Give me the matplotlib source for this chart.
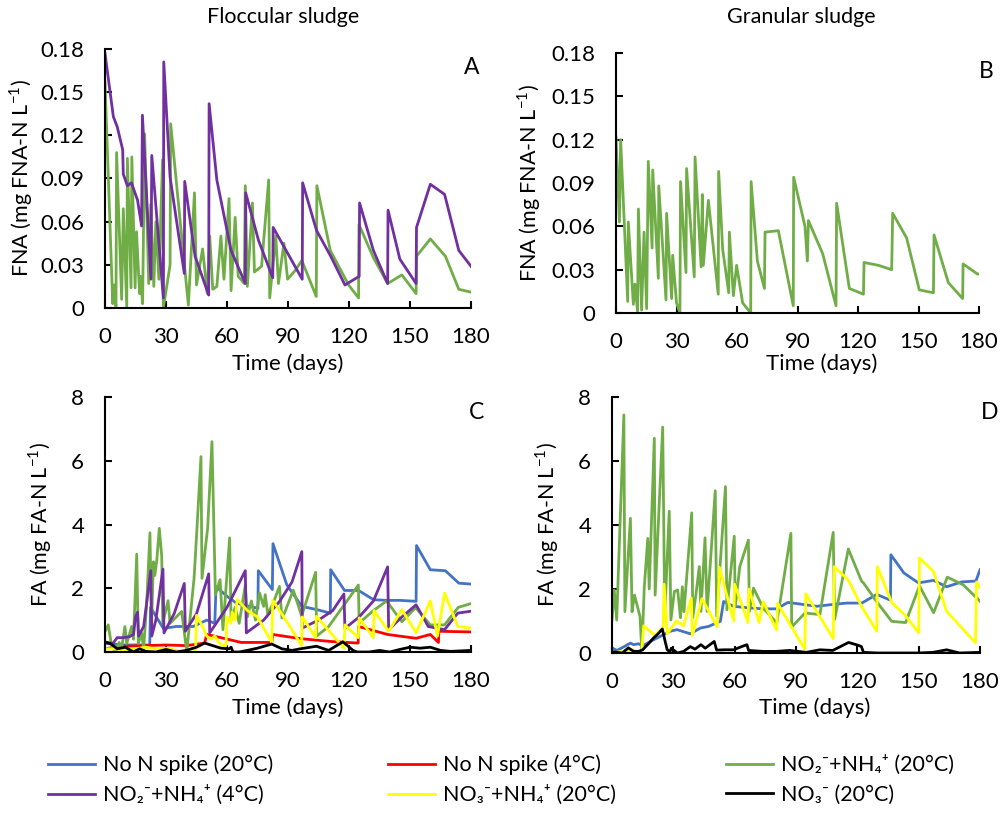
import numpy as np
import matplotlib
matplotlib.use("Agg")
import matplotlib.pyplot as plt

plt.rcParams['font.family'] = ['Lato', 'DejaVu Sans']
plt.rcParams['mathtext.fontset'] = 'custom'
plt.rcParams['mathtext.rm'] = 'Lato'

## ---------------------------------------------------------------- data
# Panel A: floccular sludge, FNA
A_green_t = [0, 3.8, 4.4, 5.4, 5.7, 8.2, 9.0, 10.7, 11.0, 12.8, 13.2, 14.8, 15.5, 17.0, 17.5, 18.5,
             19.5, 21.5, 22.5, 24.0, 25.0, 26.5, 28.3, 28.7, 32.0, 32.3, 41.0, 44.0, 45.0, 48.0,
             50.3, 51.5, 53.0, 55.0, 57.0, 58.5, 61.0, 62.0, 64.0, 65.5, 68.5, 69.0, 70.0, 72.5,
             73.5, 77.0, 80.5, 81.0, 84.0, 85.3, 88.0, 89.8, 93.5, 96.8, 103.9, 104.2, 110.8,
             119.8, 124.7, 124.9, 132.0, 139.0, 146.0, 153.0, 153.2, 160.0, 167.4, 174.0, 180.0]
A_green_v = [0.157, 0.003, 0.016, 0.001, 0.108, 0.006, 0.069, 0.001, 0.104, 0.014, 0.105, 0.014,
             0.053, 0.010, 0.022, 0.003, 0.121, 0.017, 0.072, 0.015, 0.060, 0.020, 0.103, 0.000,
             0.030, 0.128, 0.002, 0.080, 0.016, 0.041, 0.010, 0.050, 0.013, 0.015, 0.050, 0.020,
             0.076, 0.012, 0.063, 0.022, 0.017, 0.085, 0.015, 0.073, 0.025, 0.029, 0.089, 0.007,
             0.050, 0.017, 0.045, 0.020, 0.026, 0.033, 0.008, 0.085, 0.040, 0.016, 0.007, 0.058,
             0.035, 0.017, 0.023, 0.010, 0.036, 0.048, 0.036, 0.013, 0.011]
A_purple_t = [0, 4.1, 6.0, 8.7, 9.0, 11.0, 13.0, 16.0, 18.0, 18.4, 22.6, 23.0, 28.7, 28.9, 32.0,
              39.0, 39.2, 44.3, 51.0, 51.2, 55.0, 62.0, 69.0, 69.2, 75.5, 82.5, 82.7, 97.0, 97.2,
              104.0, 111.0, 118.0, 125.0, 125.2, 132.0, 139.0, 139.2, 145.0, 153.0, 153.2, 160.0,
              167.0, 174.0, 180.0]
A_purple_v = [0.177, 0.133, 0.126, 0.110, 0.093, 0.085, 0.087, 0.075, 0.057, 0.134, 0.020, 0.106,
              0.007, 0.171, 0.091, 0.024, 0.088, 0.036, 0.009, 0.142, 0.089, 0.040, 0.017, 0.080,
              0.047, 0.021, 0.056, 0.020, 0.087, 0.054, 0.036, 0.016, 0.022, 0.073, 0.040, 0.017,
              0.068, 0.034, 0.017, 0.056, 0.086, 0.079, 0.040, 0.029]

# Panel B: granular sludge, FNA
B_green_t = [0, 1.7, 2.3, 5.8, 6.1, 8.6, 9.4, 10.7, 11.1, 12.7, 13.9, 15.2, 16.0, 17.9, 18.2, 21.0,
             21.2, 24.8, 25.1, 27.6, 28.1, 30.0, 31.7, 32.0, 34.7, 35.0, 38.8, 39.2, 42.2, 42.8,
             43.3, 45.8, 50.7, 50.9, 52.9, 55.9, 56.2, 58.2, 59.8, 62.8, 66.8, 67.0, 70.1, 73.6,
             73.9, 80.5, 87.9, 88.1, 93.7, 94.9, 95.4, 102.5, 109.1, 109.4, 115.7, 122.7, 123.0,
             130.1, 136.7, 137.2, 144.1, 150.4, 157.4, 157.7, 164.8, 171.9, 172.1, 179.2, 180.0]
B_green_v = [0.122, 0.063, 0.120, 0.008, 0.063, 0.006, 0.020, 0.001, 0.072, 0.002, 0.056, 0.003,
             0.105, 0.045, 0.099, 0.024, 0.088, 0.009, 0.069, 0.010, 0.040, 0.007, 0.000, 0.091,
             0.028, 0.100, 0.025, 0.108, 0.032, 0.082, 0.033, 0.078, 0.013, 0.098, 0.044, 0.014,
             0.056, 0.012, 0.033, 0.007, 0.000, 0.091, 0.036, 0.017, 0.056, 0.057, 0.005, 0.094,
             0.060, 0.036, 0.064, 0.041, 0.005, 0.076, 0.017, 0.013, 0.035, 0.033, 0.030, 0.069,
             0.052, 0.016, 0.014, 0.054, 0.021, 0.010, 0.034, 0.027, 0.027]

# Panel C: floccular sludge, FA
C_blue_t = [0, 4, 10, 16, 22, 22.4, 28.7, 35, 43.4, 50, 54, 54.6, 60, 64.7, 75.2, 75.4, 82.3, 82.6,
            89.4, 96.8, 104.2, 110.8, 111, 117.8, 124.7, 132.1, 139, 145.2, 153, 153.2, 160, 167.4,
            174, 180]
C_blue_v = [0.27, 0.25, 0.22, 0.22, 0.22, 1.4, 0.74, 0.8, 0.8, 1.0, 0.9, 2.05, 1.75, 1.53, 1.37,
            2.55, 1.96, 3.4, 2.11, 1.43, 1.33, 1.22, 2.58, 1.93, 1.93, 1.64, 1.62, 1.62, 1.59, 3.34,
            2.58, 2.55, 2.16, 2.13]
C_red_t = [0, 8, 20, 30, 40, 49, 50, 57, 67, 82, 82.5, 96, 111, 124.5, 124.7, 139, 153, 160, 164,
           164.2, 180]
C_red_v = [0.1, 0.18, 0.2, 0.22, 0.2, 0.28, 0.55, 0.45, 0.3, 0.3, 0.55, 0.42, 0.33, 0.28, 0.8,
           0.55, 0.43, 0.55, 0.3, 0.65, 0.63]
C_green_t = [0, 1.6, 3.3, 4.9, 7, 8, 9.8, 10.7, 13.1, 14, 15.6, 16.4, 18, 19, 20.5, 22.1, 22.9, 23.8,
             24.5, 25.5, 26.7, 27.9, 28.4, 31, 32, 37.7, 40.2, 43.8, 45, 47.2, 47.7, 50.5, 52.6,
             54.3, 56.6, 58, 61.3, 62, 64, 66, 69, 70, 72, 74, 76, 78, 78.8, 80, 82.5, 85.8, 87,
             88.5, 92.6, 96.7, 103.6, 104.1, 110, 124.6, 125, 132, 138.5, 146, 152.8, 160, 167,
             173.7, 180]
C_green_v = [0.64, 0.85, 0.17, 0.01, 0.3, 0.05, 0.8, 0.27, 0.8, 0.4, 3.07, 0.27, 0.6, 0.1, 1.53,
             3.74, 0.9, 2.83, 2.4, 2.9, 3.88, 3.0, 0.9, 1.61, 0.9, 1.27, 0.01, 2.31, 3.62, 6.13,
             2.31, 3.9, 6.6, 1.8, 2.27, 0.7, 3.58, 1.0, 1.4, 0.9, 2.1, 1.1, 1.6, 1.0, 1.85, 1.43,
             1.8, 1.2, 1.5, 2.06, 1.07, 1.26, 1.94, 1.13, 2.5, 0.5, 0.8, 2.1, 0.91, 1.3, 1.6, 0.95,
             1.39, 0.85, 0.85, 1.4, 1.52]
C_purple_t = [0, 4, 6, 9, 12, 14, 15, 16, 16.5, 19, 22.5, 23, 25, 28.5, 29, 34, 39, 39.5, 45, 51,
              51.5, 60, 69, 69.5, 78, 86, 92, 96.8, 97, 105, 112, 117.5, 118, 125, 132, 139, 139.5,
              146, 153, 159, 167, 173.5, 180]
C_purple_v = [0.3, 0.28, 0.45, 0.45, 0.48, 0.55, 1.1, 1.25, 0.5, 0.8, 2.55, 0.5, 1.0, 2.6, 0.6,
              1.2, 2.15, 0.65, 1.2, 2.45, 0.6, 1.4, 2.55, 0.6, 1.0, 1.6, 2.2, 3.15, 0.75, 1.0, 1.3,
              1.82, 0.74, 1.1, 1.6, 2.67, 0.7, 1.1, 1.48, 0.8, 0.7, 1.22, 1.28]
C_yellow_t = [0, 5, 10, 15, 20, 25, 30, 35, 40, 44.5, 45, 48, 50, 52, 54, 56, 58, 59.5, 60, 62, 62.5,
              64, 65, 70, 75, 82, 82.5, 90, 96.7, 97, 103.6, 104, 117.5, 118, 124.6, 125, 132,
              132.3, 139.5, 146, 153, 160, 163.5, 167, 173.5, 180]
C_yellow_v = [0.1, 0.1, 0.05, 0.1, 0.15, 0.1, 0.12, 0.05, 0.0, 0.0, 1.15, 0.8, 0.5, 0.4, 0.5, 0.3,
              0.2, 0.2, 1.1, 0.9, 1.25, 1.0, 1.65, 1.3, 1.1, 0.3, 1.62, 0.9, 0.2, 1.1, 0.45, 1.12,
              0.12, 0.85, 0.45, 1.07, 0.45, 1.3, 0.65, 1.33, 0.6, 1.6, 0.5, 1.85, 0.8, 0.75]
C_black_t = [0, 3, 6, 10, 14, 17, 20, 25, 30, 35, 40, 45, 49, 53, 57, 61, 62, 63, 66, 70, 75, 82,
             87, 92, 96, 104, 110, 117, 122, 124, 130, 135, 140, 145, 150, 155, 160, 165, 170, 180]
C_black_v = [0.32, 0.25, 0.1, 0.15, 0.0, 0.1, 0.02, 0.0, 0.08, 0.0, 0.05, 0.15, 0.28, 0.2, 0.12,
             0.1, 0.15, 0.0, 0.0, 0.05, 0.12, 0.25, 0.1, 0.05, 0.1, 0.18, 0.05, 0.32, 0.05, 0.0,
             0.0, 0.05, 0.0, 0.08, 0.15, 0.12, 0.15, 0.05, 0.02, 0.05]

# Panel D: granular sludge, FA
D_blue_t = [0, 2.4, 6, 9, 10.6, 13, 15, 18.7, 23.6, 28.5, 31.8, 38.3, 43.2, 47.2, 53, 54.6, 59.5,
            66.8, 74, 80.6, 86, 92, 100.2, 108.3, 114.8, 122.2, 129.5, 136.2, 136.4, 142.8, 149.9,
            157.2, 163.7, 171, 178, 180]
D_blue_v = [0.16, 0.08, 0.2, 0.31, 0.26, 0.29, 0.22, 0.36, 0.52, 0.68, 0.73, 0.6, 0.78, 0.83,
            0.99, 1.61, 1.46, 1.41, 1.38, 1.38, 1.58, 1.53, 1.46, 1.52, 1.56, 1.56, 1.83, 1.65, 3.07,
            2.5, 2.19, 2.27, 2.07, 2.22, 2.25, 2.6]
D_green_t = [0, 1.1, 2.3, 5.8, 6.3, 9.0, 9.8, 11, 13.7, 14.6, 15.8, 17.5, 18.2, 20.7, 21.1, 24.8,
             25.8, 28, 28.8, 30.5, 32.1, 33.5, 34.4, 35.2, 39, 39.5, 41, 42.7, 43.5, 45.5, 46.5,
             50.5, 51.2, 55.5, 56.2, 59.8, 60.3, 62.5, 66.7, 67.2, 69.2, 74, 80.6, 87.5, 87.9, 94.4,
             101.7, 108.2, 108.9, 115.6, 122.1, 123, 129.5, 136.8, 143.6, 150.4, 157.3, 164, 171.8,
             180]
D_green_v = [1.03, 1.97, 1.03, 7.44, 1.29, 4.21, 1.29, 1.81, 1.14, 0.04, 2.07, 3.58, 2.0, 6.71,
             1.81, 7.06, 1.15, 4.43, 1.03, 1.92, 1.97, 1.1, 2.07, 1.29, 4.38, 1.1, 1.8, 2.7, 1.3,
             3.6, 1.3, 5.07, 1.15, 5.2, 1.35, 3.65, 1.45, 2.7, 3.53, 1.3, 2.03, 1.4, 0.94, 3.74,
             0.81, 1.25, 1.2, 3.77, 1.05, 3.25, 2.24, 2.19, 1.6, 0.99, 0.95, 2.1, 1.26, 2.37, 2.13,
             1.62]
D_yellow_t = [0, 5, 10, 14.5, 15.5, 21, 25, 25.5, 27, 31.5, 35, 38.8, 39.3, 44, 51.5, 52.5, 59.5,
              60, 66.5, 67, 72, 74, 80.5, 81, 87, 94.3, 94.8, 108.2, 108.7, 115.6, 122.1, 129.5,
              129.8, 136.8, 143.4, 150, 150.4, 157.2, 163.7, 177.8, 178.3, 180]
D_yellow_v = [0.0, 0.05, 0.1, 0.0, 0.85, 0.55, 0.8, 2.15, 0.6, 1.0, 0.85, 1.72, 0.55, 1.7, 0.82,
              2.68, 1.0, 2.15, 0.95, 2.0, 0.95, 1.6, 0.72, 1.55, 0.9, 0.12, 1.85, 0.45, 2.7, 2.28,
              1.45, 0.68, 2.7, 1.58, 1.18, 0.63, 2.97, 2.55, 1.3, 0.32, 2.22, 2.05]
D_black_t = [0, 5, 8, 10.6, 13, 15, 18, 20.2, 22.7, 24.6, 25.5, 26, 27, 28.4, 29, 30, 32, 35, 38.3,
             40.6, 43.5, 45.6, 50, 51.2, 55, 59.5, 63.4, 66, 66.8, 74, 80, 87, 95, 101.7, 108,
             115.7, 120.5, 122, 123, 130, 140, 150, 157, 163.7, 170, 180]
D_black_v = [0.04, 0.0, 0.16, 0.05, 0.05, 0.1, 0.3, 0.46, 0.61, 0.75, 0.5, 0.36, 0.1, 0.04, 0.15,
             0.1, 0.0, 0.05, 0.2, 0.12, 0.26, 0.15, 0.36, 0.09, 0.1, 0.1, 0.2, 0.26, 0.08, 0.05,
             0.05, 0.08, 0.02, 0.1, 0.08, 0.33, 0.24, 0.2, 0.02, 0.0, 0.0, 0.0, 0.02, 0.1, 0.0, 0.02]

x_ticks = [0, 30, 60, 90, 120, 150, 180]
fna_ticks = [0, 0.03, 0.06, 0.09, 0.12, 0.15, 0.18]
fna_ticklabels = ['0', '0.03', '0.06', '0.09', '0.12', '0.15', '0.18']
fa_ticks = [0, 2, 4, 6, 8]

labels = ['No N spike (20°C)', 'No N spike (4°C)', 'NO₂⁻+NH₄⁺ (20°C)',
          'NO₂⁻+NH₄⁺ (4°C)', 'NO₃⁻+NH₄⁺ (20°C)', 'NO₃⁻ (20°C)']
colors = ['#4472C4', '#FF0000', '#70AD47', '#7030A0', '#FFFF00', '#000000']

## ---------------------------------------------------------------- figure
W, H = 1002, 813
fig = plt.figure(figsize=(W/100, H/100), dpi=100)

def px_axes(l, t, r, b):
    return fig.add_axes([l/W, 1-b/H, (r-l)/W, (b-t)/H])

axA = px_axes(105, 49, 471, 308)
axB = px_axes(616, 53, 979, 313)
axC = px_axes(105, 397, 471, 652)
axD = px_axes(612, 397, 980, 653)

LW = 2.0
FS = 16

def style(ax, yt, ytl, ymax):
    ax.set_xlim(0, 180)
    ax.set_ylim(0, ymax)
    ax.set_xticks(x_ticks)
    ax.set_yticks(yt)
    ax.set_yticklabels(ytl)
    for s in ['top', 'right']:
        ax.spines[s].set_visible(False)
    for s in ['left', 'bottom']:
        ax.spines[s].set_linewidth(1.5)
    ax.tick_params(axis='both', direction='in', length=5, width=1.5, labelsize=FS)
    ax.tick_params(axis='y', pad=15)
    ax.tick_params(axis='x', pad=14)

# A
axA.plot(A_green_t, A_green_v, color=colors[2], lw=LW)
axA.plot(A_purple_t, A_purple_v, color=colors[3], lw=LW)
style(axA, fna_ticks, fna_ticklabels, 0.18)
# B
axB.plot(B_green_t, B_green_v, color=colors[2], lw=LW)
style(axB, fna_ticks, fna_ticklabels, 0.18)
# C
h0, = axC.plot(C_blue_t, C_blue_v, color=colors[0], lw=LW)
h1, = axC.plot(C_red_t, C_red_v, color=colors[1], lw=LW)
h2, = axC.plot(C_green_t, C_green_v, color=colors[2], lw=LW)
h3, = axC.plot(C_purple_t, C_purple_v, color=colors[3], lw=LW)
h4, = axC.plot(C_yellow_t, C_yellow_v, color=colors[4], lw=LW)
h5, = axC.plot(C_black_t, C_black_v, color=colors[5], lw=LW)
style(axC, fa_ticks, [str(v) for v in fa_ticks], 8)
# D
axD.plot(D_blue_t, D_blue_v, color=colors[0], lw=LW)
axD.plot(D_green_t, D_green_v, color=colors[2], lw=LW)
axD.plot(D_yellow_t, D_yellow_v, color=colors[4], lw=LW)
axD.plot(D_black_t, D_black_v, color=colors[5], lw=LW)
style(axD, fa_ticks, [str(v) for v in fa_ticks], 8)

# panel letters
for x, y, s in [(472, 67, 'A'), (986, 72, 'B'), (477, 412, 'C'), (990, 412, 'D')]:
    fig.text(x/W, 1-y/H, s, fontsize=16.5, ha='center', va='center')

# titles
fig.text(283/W, 1-17/H, 'Floccular sludge', fontsize=15.5, ha='center', va='center')
fig.text(801/W, 1-17/H, 'Granular sludge', fontsize=15.5, ha='center', va='center')

# axis labels
fig.text(288/W, 1-364/H, 'Time (days)', fontsize=FS, ha='center', va='center')
fig.text(822/W, 1-364/H, 'Time (days)', fontsize=FS, ha='center', va='center')
fig.text(288/W, 1-708/H, 'Time (days)', fontsize=FS, ha='center', va='center')
fig.text(815/W, 1-708/H, 'Time (days)', fontsize=FS, ha='center', va='center')
fig.text(21/W, 1-178/H, 'FNA (mg FNA-N L$^{-1}$)', fontsize=15.5, rotation=90, ha='center', va='center')
fig.text(529/W, 1-183/H, 'FNA (mg FNA-N L$^{-1}$)', fontsize=15.5, rotation=90, ha='center', va='center')
fig.text(40/W, 1-524/H, 'FA (mg FA-N L$^{-1}$)', fontsize=15.5, rotation=90, ha='center', va='center')
fig.text(547/W, 1-524/H, 'FA (mg FA-N L$^{-1}$)', fontsize=15.5, rotation=90, ha='center', va='center')

# legend: three columns of two rows
handles = [h0, h1, h2, h3, h4, h5]
col_x = [48, 388, 726]
for i, x in enumerate(col_x):
    fig.legend([handles[i], handles[i+3]], [labels[i], labels[i+3]],
               loc='center left', bbox_to_anchor=(x/W, 1-780/H),
               frameon=False, fontsize=15.5, handlelength=2.2, handletextpad=0.35,
               borderpad=0, borderaxespad=0, labelspacing=0.45)

fig.savefig('out.png', dpi=100)
